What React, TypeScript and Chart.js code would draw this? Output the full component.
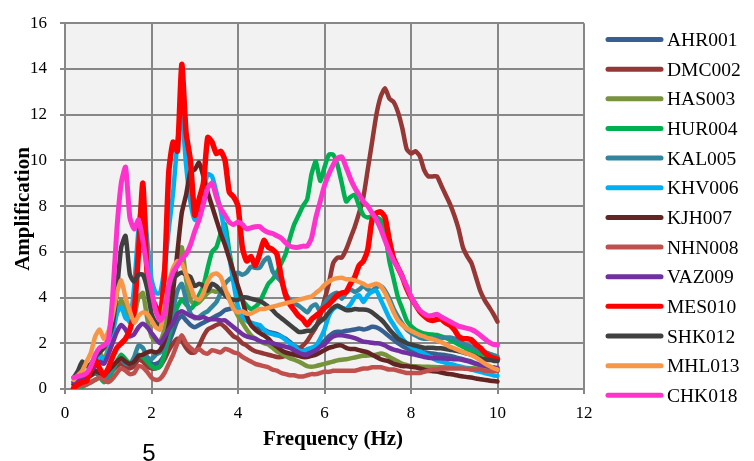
import React, { useEffect, useRef } from "react";
import { Chart, registerables } from "chart.js";

Chart.register(...registerables);

// Frequency grid (Hz)
const FREQ = [
  0.2, 0.3, 0.4, 0.5, 0.6, 0.7, 0.8, 0.9, 1.0, 1.1,
  1.2, 1.3, 1.4, 1.5, 1.6, 1.7, 1.8, 1.9, 2.0, 2.1,
  2.2, 2.3, 2.4, 2.5, 2.6, 2.7, 2.8, 2.9, 3.0, 3.1,
  3.2, 3.3, 3.4, 3.5, 3.6, 3.7, 3.8, 3.9, 4.0, 4.1,
  4.2, 4.3, 4.4, 4.5, 4.6, 4.7, 4.8, 4.9, 5.0, 5.1,
  5.2, 5.3, 5.4, 5.5, 5.6, 5.7, 5.8, 5.9, 6.0, 6.1,
  6.2, 6.3, 6.4, 6.5, 6.6, 6.7, 6.8, 6.9, 7.0, 7.1,
  7.2, 7.3, 7.4, 7.5, 7.6, 7.7, 7.8, 7.9, 8.0, 8.1,
  8.2, 8.3, 8.4, 8.5, 8.6, 8.7, 8.8, 8.9, 9.0, 9.1,
  9.2, 9.3, 9.4, 9.5, 9.6, 9.7, 9.8, 9.9, 10.0,
];

const AHR001 = [
  0.2, 0.35, 0.45, 0.5, 0.6, 0.7, 0.6, 0.45, 0.6, 0.9,
  1.1, 1.25, 1.1, 1.0, 1.1, 1.4, 1.35, 1.2, 1.1, 1.1,
  1.2, 1.5, 2.0, 2.5, 3.0, 3.2, 3.0, 2.8, 2.7, 2.8,
  2.9, 3.0, 3.1, 3.2, 3.3, 3.45, 3.5, 3.55, 3.4, 3.2,
  3.0, 2.85, 2.75, 2.65, 2.6, 2.5, 2.45, 2.4, 2.3, 2.2,
  2.05, 1.9, 1.8, 1.7, 1.65, 1.7, 1.8, 1.95, 2.1, 2.3,
  2.45, 2.5, 2.5, 2.55, 2.57, 2.6, 2.65, 2.6, 2.65, 2.72,
  2.7, 2.6, 2.45, 2.3, 2.15, 2.0, 1.88, 1.78, 1.7, 1.65,
  1.62, 1.6, 1.58, 1.55, 1.52, 1.5, 1.48, 1.45, 1.4, 1.35,
  1.3, 1.25, 1.2, 1.12, 1.05, 0.98, 0.9, 0.85, 0.8,
];

const DMC002 = [
  0.2, 0.4, 0.5, 0.5, 0.6, 0.7, 0.6, 0.5, 0.6, 0.8,
  1.0, 1.1, 1.0, 0.9, 1.0, 1.3, 1.2, 1.0, 0.9, 0.9,
  1.0, 1.3, 1.7, 2.0, 2.2, 2.1, 1.8, 1.6, 1.6, 1.9,
  2.3, 2.6, 2.7, 2.8, 2.85, 2.7, 2.5, 2.3, 2.2, 2.0,
  1.9, 1.75, 1.65, 1.6, 1.55, 1.5, 1.45, 1.4, 1.4, 1.45,
  1.5, 1.6, 1.75, 1.9, 2.1, 2.4, 2.7, 3.2, 3.9, 4.6,
  5.5, 5.75, 5.75, 6.1, 6.6, 7.1, 7.7, 8.4, 9.6, 10.8,
  12.0, 12.8, 13.15, 12.7, 12.55, 12.1, 11.4, 10.5, 10.3, 10.4,
  10.2, 9.6, 9.3, 9.3, 9.3, 8.9, 8.5, 8.1, 7.6, 7.0,
  6.2, 5.8, 5.5, 4.9, 4.3, 3.9, 3.6, 3.3, 2.95,
];

const HAS003 = [
  0.2, 0.4, 0.5, 0.6, 0.9, 1.3, 1.6, 1.3, 1.8, 2.6,
  3.4, 3.9, 3.5, 2.9, 3.2, 4.0, 4.2, 3.1, 2.3, 2.1,
  2.1, 2.6, 3.5, 4.6, 5.6, 6.2, 4.8, 3.9, 3.7, 3.8,
  4.0, 4.2, 4.3, 4.25, 4.3, 4.3, 4.0, 3.6, 3.2, 2.9,
  2.6, 2.35, 2.2, 2.1, 2.0, 1.95, 1.8, 1.65, 1.55, 1.45,
  1.35, 1.28, 1.2, 1.1, 1.0, 0.97, 1.0, 1.05, 1.1, 1.15,
  1.2, 1.25, 1.28, 1.3, 1.34, 1.38, 1.42, 1.45, 1.47, 1.48,
  1.5, 1.55, 1.5, 1.4, 1.3, 1.2, 1.1, 1.05, 1.0, 1.0,
  0.98, 0.97, 0.97, 0.96, 0.95, 0.95, 0.95, 0.95, 0.94, 0.93,
  0.92, 0.92, 0.91, 0.9, 0.9, 0.9, 0.9, 0.9, 0.9,
];

const HUR004 = [
  0.0, 0.05, 0.1, 0.2, 0.3, 0.4, 0.5, 0.3, 0.4, 0.8,
  1.2, 1.5, 1.3, 1.1, 1.2, 1.5, 1.4, 1.2, 1.0, 0.9,
  1.0, 1.5, 2.3, 3.0, 3.6, 3.9, 3.7, 3.5, 3.7, 4.1,
  4.5, 5.3, 6.0, 6.2, 6.8, 7.2, 6.0, 5.0, 4.3, 3.9,
  3.65, 3.5, 3.6, 3.8, 4.2, 4.6, 4.8, 5.1, 5.5, 5.9,
  6.6, 7.2, 7.6, 8.0, 8.3, 9.4, 9.95, 9.1, 9.7, 10.25,
  10.25, 9.8, 9.0, 8.2, 8.4, 8.5, 8.0, 7.6, 7.5, 7.55,
  7.5, 7.4, 6.8, 5.6, 4.8, 4.0, 3.5, 3.0, 2.75, 2.6,
  2.5, 2.43, 2.4, 2.38, 2.36, 2.3, 2.23, 2.15, 2.05, 1.95,
  1.85, 1.75, 1.67, 1.6, 1.55, 1.5, 1.4, 1.3, 1.25,
];

const KAL005 = [
  0.3, 0.4, 0.5, 0.6, 0.7, 0.8, 0.6, 0.4, 0.6, 0.9,
  1.2, 1.3, 1.1, 1.1, 1.4, 1.9, 1.8, 1.4, 1.3, 1.5,
  1.6, 1.8, 2.6, 3.5, 4.3, 4.6, 3.9, 3.3, 3.1, 3.15,
  3.3, 3.4, 3.6, 3.8, 4.2, 4.6, 4.8, 4.9, 5.1, 5.0,
  5.1, 5.35, 5.3, 5.3, 5.6, 5.75, 5.15, 4.9, 4.7, 4.2,
  3.9, 3.75, 3.65, 3.5, 3.35, 3.6, 3.7, 3.4, 3.75, 4.0,
  4.15, 4.2, 3.95, 4.2, 4.35, 4.25, 4.35, 4.5, 4.35, 4.3,
  4.45, 4.5, 4.3, 3.95, 3.5, 3.15, 2.85, 2.6, 2.45, 2.35,
  2.25, 2.2, 2.2, 2.2, 2.22, 2.22, 2.25, 2.25, 2.2, 2.1,
  2.0, 1.9, 1.85, 1.78, 1.7, 1.62, 1.55, 1.48, 1.42,
];

const KHV006 = [
  0.3, 0.4, 0.5, 0.6, 0.8, 1.2, 1.5, 1.2, 1.6, 2.4,
  3.3, 3.6, 3.1, 3.0, 4.5, 7.0, 8.5, 6.5, 4.8, 4.2,
  4.2, 5.3, 7.0, 8.6, 10.8, 12.0, 9.8, 8.2, 7.4, 7.8,
  8.7, 9.4, 9.3, 8.6, 7.8, 6.8, 5.8, 4.6, 3.6, 3.2,
  3.0, 2.9, 2.85, 2.8, 2.6, 2.45, 2.4, 2.35, 2.3, 2.15,
  2.0, 1.9, 1.7, 1.65, 1.75, 1.8, 1.9, 2.2, 2.6, 3.2,
  3.5, 3.6, 3.55, 3.5, 3.7, 4.0, 4.1, 3.8, 4.1, 4.25,
  4.3, 3.9, 3.5, 3.1, 2.8, 2.5, 2.2, 2.0, 1.85, 1.75,
  1.65, 1.55, 1.45, 1.35, 1.25, 1.2, 1.15, 1.1, 1.05, 1.0,
  0.95, 0.9, 0.85, 0.8, 0.75, 0.7, 0.65, 0.6, 0.58,
];

const KJH007 = [
  0.2, 0.4, 0.5, 0.55, 0.6, 0.8, 0.7, 0.6, 0.8, 1.0,
  1.2, 1.35, 1.2, 1.1, 1.2, 1.45, 1.5, 1.6, 1.65, 1.6,
  1.7, 2.1, 2.8, 4.3, 6.0, 7.7, 8.5, 9.5, 9.6, 9.9,
  9.3, 8.6, 8.0, 7.4, 6.8, 6.3, 5.7, 5.1, 4.5, 3.9,
  3.2, 2.8, 2.6, 2.45, 2.35, 2.2, 2.0, 1.85, 1.7, 1.6,
  1.55, 1.5, 1.45, 1.4, 1.4, 1.45, 1.5, 1.6, 1.7, 1.8,
  1.85, 1.9, 1.9, 1.8, 1.75, 1.75, 1.7, 1.65, 1.6, 1.5,
  1.4, 1.3, 1.25, 1.2, 1.1, 1.05, 1.0, 1.0, 0.97, 0.95,
  0.9, 0.85, 0.8, 0.78, 0.76, 0.72, 0.68, 0.65, 0.62, 0.58,
  0.55, 0.52, 0.5, 0.46, 0.43, 0.4, 0.37, 0.35, 0.33,
];

const NHN008 = [
  0.0, 0.1, 0.15, 0.2, 0.3, 0.4, 0.5, 0.4, 0.3, 0.45,
  0.7, 0.9, 0.8, 0.65, 0.7, 1.0, 0.95, 0.75, 0.5, 0.4,
  0.45, 0.7, 1.1, 1.5, 2.0, 2.35, 2.0, 1.8, 1.65, 1.75,
  1.6, 1.55, 1.7, 1.65, 1.6, 1.75, 1.7, 1.6, 1.55, 1.4,
  1.3, 1.2, 1.1, 1.05, 1.0, 0.95, 0.85, 0.8, 0.7, 0.65,
  0.6, 0.6, 0.55, 0.55, 0.6, 0.65, 0.65, 0.7, 0.75, 0.75,
  0.8, 0.8, 0.8, 0.8, 0.8, 0.8, 0.85, 0.9, 0.9, 0.95,
  0.95, 0.95, 0.9, 0.85, 0.85, 0.8, 0.75, 0.7, 0.7, 0.7,
  0.7, 0.75, 0.8, 0.85, 0.85, 0.9, 0.9, 0.9, 0.9, 0.9,
  0.9, 0.88, 0.85, 0.85, 0.85, 0.8, 0.8, 0.8, 0.8,
];

const VAZ009 = [
  0.3, 0.4, 0.5, 0.6, 0.8, 1.0, 1.2, 1.1, 1.5, 2.0,
  2.5, 2.8, 2.6, 2.3, 2.4, 2.7, 2.85, 2.7, 2.45, 2.2,
  2.0, 2.3, 2.6, 2.9, 3.3, 3.4, 3.3, 3.2, 3.15, 3.1,
  3.15, 3.05, 3.05, 3.05, 3.0, 3.0, 2.85, 2.7, 2.55, 2.4,
  2.3, 2.25, 2.2, 2.1, 2.05, 2.05, 2.0, 1.95, 1.9, 1.85,
  1.8, 1.7, 1.6, 1.52, 1.5, 1.6, 1.7, 1.85, 1.95, 2.15,
  2.3, 2.35, 2.35, 2.32, 2.28, 2.22, 2.15, 2.07, 2.05, 2.02,
  2.0, 1.98, 1.9, 1.8, 1.72, 1.68, 1.62, 1.58, 1.53, 1.5,
  1.45, 1.4, 1.37, 1.35, 1.35, 1.34, 1.33, 1.32, 1.3, 1.3,
  1.27, 1.22, 1.16, 1.1, 1.06, 1.02, 0.98, 0.95, 0.92,
];

const MES010 = [
  0.05, 0.2, 0.3, 0.35, 0.9, 1.3, 0.9, 0.6, 0.9, 1.4,
  1.8, 2.0, 2.2, 2.6, 3.4, 6.0, 9.0, 5.0, 4.0, 3.6,
  3.2, 5.0, 9.5, 10.8, 10.4, 14.2, 11.2, 10.0, 7.6, 8.3,
  9.0, 11.0, 10.8, 10.3, 10.4, 10.0, 8.6, 8.4, 8.0, 6.2,
  5.6, 5.8, 5.4, 5.9, 6.5, 6.2, 6.1, 5.9, 4.9, 4.1,
  3.7, 3.45, 3.2, 3.05, 2.8, 3.05, 3.2, 3.35, 3.55, 3.7,
  3.9, 4.1, 4.2, 4.25, 4.6, 4.9, 5.4, 5.6, 6.1, 7.4,
  7.7, 7.75, 7.5, 6.5, 5.7, 5.3, 4.9, 4.4, 4.0, 3.7,
  3.4, 3.2, 3.05, 3.0, 3.05, 3.05, 2.9, 2.8, 2.6, 2.3,
  2.2, 2.2, 2.15, 1.95, 1.8, 1.6, 1.45, 1.35, 1.3,
];

const SHK012 = [
  0.5, 0.8, 1.2, 1.0, 1.1, 1.4, 1.6, 1.8, 2.2, 2.8,
  4.3, 6.2, 6.7, 5.0, 4.7, 5.0, 5.0, 4.4, 3.3, 2.9,
  2.8, 3.4, 4.3, 4.8, 5.0, 5.1, 5.0, 4.9, 4.5, 4.6,
  4.5, 4.3, 4.6, 4.5, 4.3, 4.1, 3.95, 3.9, 3.9, 4.0,
  4.0, 3.95, 3.9, 3.85, 3.75, 3.6, 3.45, 3.25, 3.1, 2.95,
  2.8, 2.65, 2.5, 2.5, 2.55, 2.55, 2.75, 2.95, 3.1, 3.35,
  3.55, 3.65, 3.55, 3.45, 3.45, 3.5, 3.48, 3.48, 3.45, 3.35,
  3.2, 3.05, 2.85, 2.6, 2.4, 2.2, 2.1, 2.0, 1.95, 1.9,
  1.85, 1.8, 1.8, 1.8, 1.78, 1.78, 1.75, 1.72, 1.68, 1.65,
  1.6, 1.55, 1.5, 1.42, 1.35, 1.3, 1.27, 1.24, 1.22,
];

const MHL013 = [
  0.4, 0.6, 0.8, 1.2, 1.6, 2.3, 2.6, 2.2, 2.5, 3.2,
  4.2, 4.75, 4.0, 3.4, 2.9, 3.2, 3.35, 3.3, 3.0, 2.7,
  2.6, 3.6, 4.6, 5.3, 5.6, 5.5, 5.0, 4.5, 4.0, 3.9,
  4.2, 4.7, 5.0, 5.05, 4.9, 4.4, 3.9, 3.5, 3.35, 3.4,
  3.3, 3.3, 3.4, 3.5, 3.5, 3.55, 3.6, 3.65, 3.7, 3.75,
  3.8, 3.85, 3.9, 3.95, 4.0, 4.05, 4.2, 4.35, 4.55, 4.7,
  4.8, 4.85, 4.87, 4.8, 4.8, 4.75, 4.68, 4.6, 4.5, 4.55,
  4.6, 4.5, 4.2, 3.8, 3.35, 3.0, 2.8, 2.65, 2.55, 2.45,
  2.36, 2.3, 2.22, 2.18, 2.12, 2.05, 1.95, 1.85, 1.78, 1.7,
  1.62, 1.55, 1.48, 1.38, 1.25, 1.12, 1.02, 0.92, 0.85,
];

const CHK018 = [
  0.5, 0.55, 0.6, 0.7, 1.0, 1.5, 1.8, 1.9, 2.1, 4.0,
  7.0, 9.0, 9.7, 7.5, 7.0, 7.4, 6.5, 5.3, 4.3, 3.4,
  3.0, 3.3, 4.5, 5.1, 5.4, 5.7, 5.9, 6.3, 6.9, 7.4,
  8.1, 8.8, 9.0, 8.4, 7.9, 7.6, 7.3, 7.2, 7.3, 7.2,
  7.0, 7.05, 7.1, 7.1, 6.95, 6.85, 6.8, 6.7, 6.6, 6.4,
  6.25, 6.2, 6.2, 6.25, 6.25, 6.6, 7.5, 8.2, 8.9, 9.4,
  9.8, 10.1, 10.15, 9.7, 9.2, 8.8, 8.5, 8.2, 8.0, 7.7,
  7.4, 7.0, 6.5, 6.0, 5.6, 5.3, 4.9, 4.5, 4.05, 3.7,
  3.45, 3.3, 3.2, 3.22, 3.27, 3.15, 3.05, 2.95, 2.85, 2.75,
  2.7, 2.65, 2.6, 2.5, 2.35, 2.2, 2.05, 1.95, 1.93,
];

const STATION_NAMES = [
  "AHR001", "DMC002", "HAS003", "HUR004", "KAL005", "KHV006", "KJH007",
  "NHN008", "VAZ009", "MES010", "SHK012", "MHL013", "CHK018",
];
const STATION_VALUES = [
  AHR001, DMC002, HAS003, HUR004, KAL005, KHV006, KJH007,
  NHN008, VAZ009, MES010, SHK012, MHL013, CHK018,
];
const STATION_COLORS = [
  "#376092", "#953735", "#77933C", "#00B050", "#31859C", "#00B0F0", "#632523",
  "#C0504D", "#7030A0", "#FF0000", "#404040", "#F79646", "#FF33CC",
];
const LINE_WIDTHS = [4.5, 4.5, 4.5, 4.5, 4.5, 4.5, 4.5, 4.5, 4.5, 5.5, 4.5, 4.5, 5];

const X_TITLE = "Frequency (Hz)";
const Y_TITLE = "Amplification";
const PAGE_NUMBER = "5";

const SERIF = "'Liberation Serif', 'Times New Roman', serif";

const plotBackground = {
  id: "plotBackground",
  beforeDraw(chart: any) {
    const { ctx, chartArea } = chart;
    ctx.save();
    ctx.fillStyle = "#F2F2F2";
    ctx.fillRect(chartArea.left, chartArea.top, chartArea.right - chartArea.left, chartArea.bottom - chartArea.top);
    ctx.restore();
  },
};

const overlayText = {
  id: "overlayText",
  afterDraw(chart: any) {
    const { ctx } = chart;
    ctx.save();
    // axis titles
    ctx.fillStyle = "#000";
    ctx.font = `bold 21px ${SERIF}`;
    ctx.textAlign = "center";
    ctx.textBaseline = "alphabetic";
    ctx.fillText(X_TITLE, 333, 445);
    ctx.save();
    ctx.translate(29, 209);
    ctx.rotate(-Math.PI / 2);
    ctx.fillText(Y_TITLE, 0, 0);
    ctx.restore();
    // legend
    const datasets = chart.data.datasets;
    ctx.font = `19.5px ${SERIF}`;
    ctx.textAlign = "left";
    ctx.textBaseline = "middle";
    datasets.forEach((ds: any, i: number) => {
      const y = 39.5 + i * 29.65;
      ctx.strokeStyle = ds.borderColor;
      ctx.lineWidth = 5;
      ctx.lineCap = "round";
      ctx.beginPath();
      ctx.moveTo(608, y);
      ctx.lineTo(661, y);
      ctx.stroke();
      ctx.fillStyle = "#000";
      ctx.fillText(ds.label, 667, y + 1.5);
    });
    // page number
    ctx.font = `24px 'Liberation Sans', Arial, sans-serif`;
    ctx.textAlign = "center";
    ctx.textBaseline = "alphabetic";
    ctx.fillText(PAGE_NUMBER, 149, 461);
    ctx.restore();
  },
};

export default function App() {
  const ref = useRef<HTMLCanvasElement>(null);
  useEffect(() => {
    if (!ref.current) return;
    const n = STATION_NAMES.length;
    const chart = new Chart(ref.current, {
      type: "line",
      data: {
        datasets: STATION_NAMES.map((name, i) => ({
          label: name,
          data: FREQ.map((f, j) => ({ x: f, y: STATION_VALUES[i][j] })),
          borderColor: STATION_COLORS[i],
          backgroundColor: STATION_COLORS[i],
          borderWidth: LINE_WIDTHS[i],
          pointRadius: 0,
          pointHoverRadius: 0,
          tension: 0.2,
          fill: false,
          borderCapStyle: "round",
          borderJoinStyle: "round",
          order: n - 1 - i,
        })),
      },
      options: {
        responsive: false,
        animation: false,
        events: [],
        layout: { padding: { left: 0, right: 170, top: 18, bottom: 0 } },
        scales: {
          x: {
            type: "linear",
            min: 0,
            max: 12,
            ticks: {
              stepSize: 2,
              color: "#000",
              font: { family: SERIF, size: 17 },
              padding: 9,
            },
            grid: { color: "#878787", lineWidth: 2, tickLength: 5 },
            border: { color: "#878787", width: 2 },
            afterFit: (s: any) => {
              s.height = 72;
            },
          },
          y: {
            type: "linear",
            min: 0,
            max: 16,
            ticks: {
              stepSize: 2,
              color: "#000",
              font: { family: SERIF, size: 17 },
              padding: 13,
            },
            grid: { color: "#878787", lineWidth: 2, tickLength: 5 },
            border: { color: "#878787", width: 2 },
            afterFit: (s: any) => {
              s.width = 65;
            },
          },
        },
        plugins: {
          legend: { display: false },
          tooltip: { enabled: false },
        },
      },
      plugins: [plotBackground, overlayText],
    } as any);
    return () => chart.destroy();
  }, []);
  return (
    <div style={{ position: "fixed", left: 0, top: 0, width: 754, height: 461, background: "#fff" }}>
      <canvas ref={ref} width={754} height={461} style={{ display: "block" }} />
    </div>
  );
}
